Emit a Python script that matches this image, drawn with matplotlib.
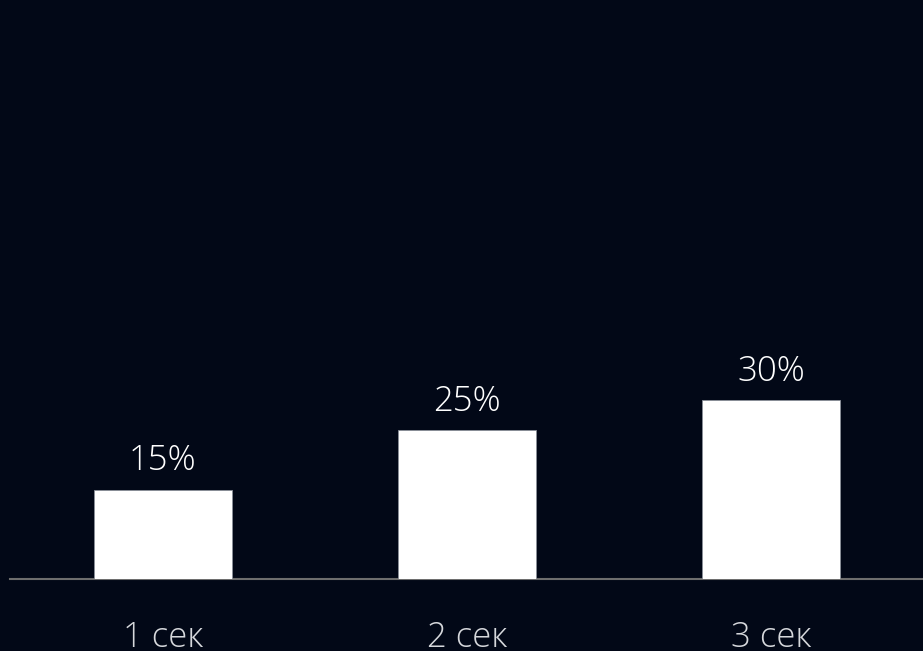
import numpy as np
import matplotlib.pyplot as plt

categories = ["1 сек", "2 сек", "3 сек"]
values = [15, 25, 30]
value_labels = ["15%", "25%", "30%"]

bg = "#020817"

plt.rcParams["font.family"] = ["Open Sans", "DejaVu Sans"]

fig = plt.figure(figsize=(9.23, 6.51), dpi=100, facecolor=bg)
ax = fig.add_axes([10 / 923, 72 / 651, 913 / 923, 579 / 651])
ax.set_facecolor(bg)

x = np.arange(len(categories))
bars = ax.bar(x, values, width=0.454, color="white", edgecolor="#8a8f99", linewidth=0.6, zorder=3)

for b, lab in zip(bars, value_labels):
    ax.annotate(lab, (b.get_x() + b.get_width() / 2, b.get_height()),
                xytext=(0, 8), textcoords="offset points",
                ha="center", va="bottom", color="white", fontsize=25, fontweight="light")

ax.set_xlim(-0.503, 2.5)
ax.set_ylim(0, 97.1)
ax.set_xticks(x)
ax.set_xticklabels(categories, color="#d6d8dc", fontsize=25, fontweight="light")
ax.tick_params(axis="x", length=0, pad=30)
ax.set_yticks([])

for s in ["top", "right", "left"]:
    ax.spines[s].set_visible(False)
ax.spines["bottom"].set_color("#6e6e6e")
ax.spines["bottom"].set_linewidth(1.5)

fig.savefig("out.png", dpi=100, facecolor=bg)
